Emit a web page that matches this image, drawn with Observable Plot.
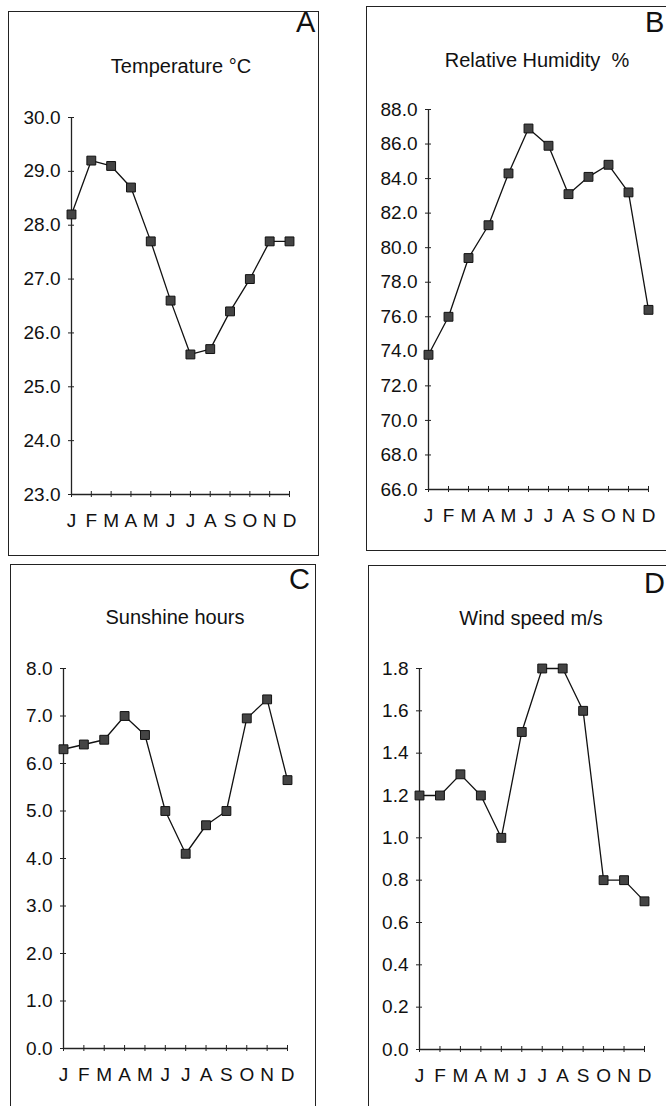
<!DOCTYPE html>
<html>
<head>
<meta charset="utf-8">
<script src="https://cdn.jsdelivr.net/npm/d3@7"></script>
<script src="https://cdn.jsdelivr.net/npm/@observablehq/plot@0.6"></script>
<style>
  html, body { margin: 0; padding: 0; background: #fff; }
  #page { position: relative; width: 666px; height: 1106px; overflow: hidden; background: #fff; }
  .frame { position: absolute; border: 1.5px solid #222; box-sizing: border-box; pointer-events: none; }
  .title { position: absolute; white-space: pre; line-height: 1; color: #111; font-family: "Liberation Sans", Arial, sans-serif; transform: translateX(-50%); }
  .letter { position: absolute; line-height: 1; color: #111; font-family: "Liberation Sans", Arial, sans-serif; }
  .panel { position: absolute; }
  .panel svg text { font-size: 19px; }
</style>
</head>
<body>
<div id="page"></div>
<script>
// ---- data ----
const monthNumbers = [1, 2, 3, 4, 5, 6, 7, 8, 9, 10, 11, 12];
const monthLetters = ["J", "F", "M", "A", "M", "J", "J", "A", "S", "O", "N", "D"];

const temperature = [28.2, 29.2, 29.1, 28.7, 27.7, 26.6, 25.6, 25.7, 26.4, 27.0, 27.7, 27.7];
const humidity    = [73.8, 76.0, 79.4, 81.3, 84.3, 86.9, 85.9, 83.1, 84.1, 84.8, 83.2, 76.4];
const sunshine    = [6.3, 6.4, 6.5, 7.0, 6.6, 5.0, 4.1, 4.7, 5.0, 6.95, 7.35, 5.65];
const windSpeed   = [1.2, 1.2, 1.3, 1.2, 1.0, 1.5, 1.8, 1.8, 1.6, 0.8, 0.8, 0.7];

const temperatureTicks = [23, 24, 25, 26, 27, 28, 29, 30];
const humidityTicks    = [66, 68, 70, 72, 74, 76, 78, 80, 82, 84, 86, 88];
const sunshineTicks    = [0, 1, 2, 3, 4, 5, 6, 7, 8];
const windTicks        = [0, 0.2, 0.4, 0.6, 0.8, 1.0, 1.2, 1.4, 1.6, 1.8];

const panelTitles  = ["Temperature °C", "Relative Humidity  %", "Sunshine hours", "Wind speed m/s"];
const panelLetters = ["A", "B", "C", "D"];

// ---- layout ----
const page = document.getElementById("page");

function makePanel({values, ticks, box, margins, fmt}) {
  const data = monthNumbers.map((m, i) => ({m, v: values[i]}));
  const ymin = ticks[0], ymax = ticks[ticks.length - 1];
  const svg = Plot.plot({
    width: box.w,
    height: box.h,
    marginLeft: margins.l,
    marginRight: margins.r,
    marginTop: margins.t,
    marginBottom: margins.b,
    style: {background: "transparent", overflow: "visible", fontFamily: "'Liberation Sans', Arial, sans-serif", fontSize: "19px", color: "#111"},
    x: {domain: [1, 12]},
    y: {domain: [ymin, ymax]},
    marks: [
      Plot.ruleX([1], {y1: ymin, y2: ymax, stroke: "#222", strokeWidth: 1.3}),
      Plot.ruleY([ymin], {x1: 1, x2: 12, stroke: "#222", strokeWidth: 1.3}),
      Plot.ruleX(monthNumbers, {x: d => d, y1: ymin, y2: ymin, insetTop: -3, insetBottom: -3, stroke: "#222", strokeWidth: 1}),
      Plot.ruleY(ticks, {y: d => d, x1: 1, x2: 1, insetLeft: -3, insetRight: -3, stroke: "#222", strokeWidth: 1}),
      Plot.axisX({ticks: monthNumbers, tickFormat: d => monthLetters[d - 1], tickSize: 0, tickPadding: 19, fontSize: 19, label: null}),
      Plot.axisY({ticks: ticks, tickFormat: fmt, tickSize: 0, tickPadding: 11, fontSize: 19, label: null}),
      Plot.line(data, {x: "m", y: "v", stroke: "#111", strokeWidth: 1.3}),
      Plot.dot(data, {x: "m", y: "v", symbol: "square", r: 5, fill: "#444", stroke: "#111", strokeWidth: 1})
    ]
  });
  const wrap = document.createElement("div");
  wrap.className = "panel";
  wrap.style.left = box.x + "px";
  wrap.style.top = box.y + "px";
  wrap.style.width = box.w + "px";
  wrap.style.height = box.h + "px";
  wrap.appendChild(svg);
  page.appendChild(wrap);
}

function addFrame(x, y, w, h) {
  const f = document.createElement("div");
  f.className = "frame";
  Object.assign(f.style, {left: x + "px", top: y + "px", width: w + "px", height: h + "px"});
  page.appendChild(f);
}
function addText(cls, text, x, baseline, size) {
  const t = document.createElement("div");
  t.className = cls;
  t.textContent = text;
  t.style.fontSize = size + "px";
  t.style.left = x + "px";
  t.style.top = (baseline - 0.8465 * size) + "px";
  page.appendChild(t);
}

makePanel({values: temperature, ticks: temperatureTicks, fmt: d3.format(".1f"),
  box: {x: 0, y: 0, w: 330, h: 556}, margins: {l: 71, r: 41, t: 117, b: 62}});
makePanel({values: humidity, ticks: humidityTicks, fmt: d3.format(".1f"),
  box: {x: 330, y: 0, w: 336, h: 551}, margins: {l: 98, r: 18, t: 109, b: 62}});
makePanel({values: sunshine, ticks: sunshineTicks, fmt: d3.format(".1f"),
  box: {x: 0, y: 556, w: 330, h: 550}, margins: {l: 63, r: 43, t: 112, b: 58}});
makePanel({values: windSpeed, ticks: windTicks, fmt: d3.format(".1f"),
  box: {x: 330, y: 556, w: 336, h: 550}, margins: {l: 89, r: 22, t: 112, b: 57}});

addFrame(8, 11, 311, 545);
addFrame(366, 6, 330, 545);
addFrame(10, 564, 306, 600);
addFrame(368, 565, 330, 600);

addText("title", panelTitles[0], 181, 73, 20);
addText("title", panelTitles[1], 537, 67, 20);
addText("title", panelTitles[2], 175, 624, 20);
addText("title", panelTitles[3], 531, 625, 20);

addText("letter", panelLetters[0], 296, 33, 29);
addText("letter", panelLetters[1], 645, 33, 29);
addText("letter", panelLetters[2], 289, 590, 29);
addText("letter", panelLetters[3], 644, 594, 29);
</script>
</body>
</html>
